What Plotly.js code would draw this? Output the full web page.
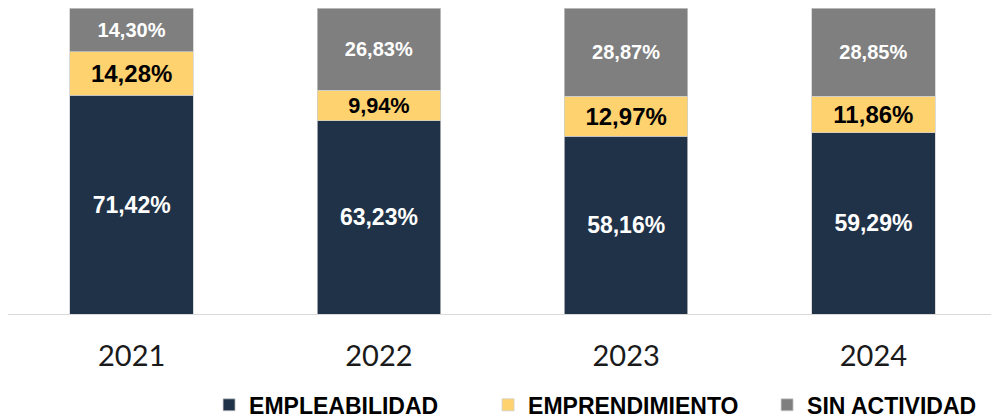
<!DOCTYPE html>
<html>
<head>
<meta charset="utf-8">
<script src="https://cdn.plot.ly/plotly-3.0.1.min.js"></script>
<style>
html,body{margin:0;padding:0;overflow:hidden;background:#fff;}
#chart{width:997px;height:419px;}
</style>
</head>
<body>
<div id="chart"></div>
<script>
var years = ['2021', '2022', '2023', '2024'];
var empleabilidad = [71.42, 63.23, 58.16, 59.29];
var emprendimiento = [14.28, 9.94, 12.97, 11.86];
var sinActividad = [14.30, 26.83, 28.87, 28.85];

var edge = {color: 'rgba(205,205,205,0.9)', width: 0.8};

var traces = [
  {
    type: 'bar', name: 'EMPLEABILIDAD', x: years, y: empleabilidad,
    marker: {color: '#1F3247', line: edge},
    texttemplate: '%{y:.2f}%', textposition: 'inside', insidetextanchor: 'middle',
    textfont: {family: 'Liberation Sans, Arial, sans-serif', size: 23, color: '#ffffff', weight: 'bold'},
    hoverinfo: 'skip'
  },
  {
    type: 'bar', name: 'EMPRENDIMIENTO', x: years, y: emprendimiento,
    marker: {color: '#FFD270', line: edge},
    texttemplate: '%{y:.2f}%', textposition: 'inside', insidetextanchor: 'middle',
    textfont: {family: 'Liberation Sans, Arial, sans-serif', size: 24, color: '#000000', weight: 'bold'},
    hoverinfo: 'skip'
  },
  {
    type: 'bar', name: 'SIN ACTIVIDAD', x: years, y: sinActividad,
    marker: {color: '#7F7F7F', line: edge},
    texttemplate: '%{y:.2f}%', textposition: 'inside', insidetextanchor: 'middle',
    textfont: {family: 'Liberation Sans, Arial, sans-serif', size: 20, color: '#ffffff', weight: 'bold'},
    hoverinfo: 'skip'
  }
];

var layout = {
  width: 997, height: 419,
  margin: {l: 8, r: 0, t: 8, b: 105, autoexpand: false},
  barmode: 'stack',
  bargap: 0.5,
  separators: ',.',
  paper_bgcolor: '#ffffff', plot_bgcolor: '#ffffff',
  xaxis: {
    type: 'category',
    showline: true, linecolor: '#d9d9d9', linewidth: 1,
    ticks: '', showgrid: false, zeroline: false,
    tickfont: {family: 'Lato, Open Sans, sans-serif', size: 29, color: '#1a1a1a'},
    ticklabelstandoff: 16
  },
  yaxis: {range: [0, 100], visible: false, fixedrange: true},
  showlegend: true,
  legend: {
    orientation: 'h', x: 0.2033, xanchor: 'left', y: -0.297, yanchor: 'middle',
    font: {family: 'Liberation Sans, Arial, sans-serif', size: 23, color: '#000000', weight: 'bold'},
    itemwidth: 30, traceorder: 'normal',
    entrywidth: 234, entrywidthmode: 'pixels'
  }
};

Plotly.newPlot('chart', traces, layout, {staticPlot: true, displayModeBar: false});
</script>
</body>
</html>
